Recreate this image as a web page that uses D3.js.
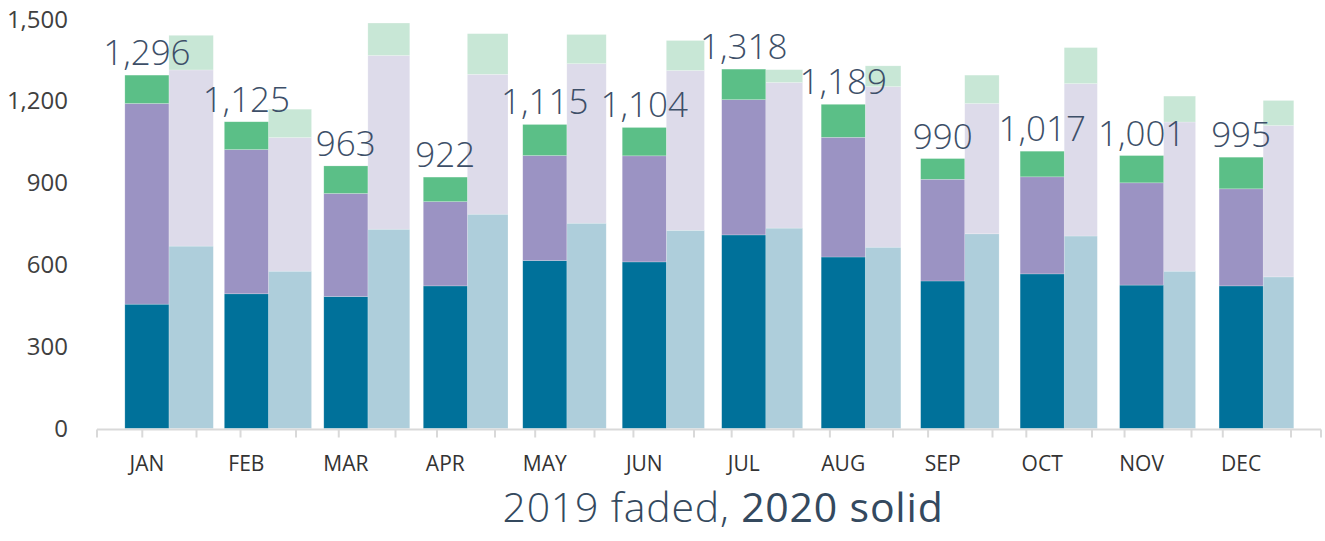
<!DOCTYPE html>
<html>
<head>
  <meta charset="utf-8">
  <script src="https://d3js.org/d3.v7.min.js"></script>
  <style>
    body { margin: 0; background: #fff; }
    svg { display: block; font-family: "Open Sans", "Noto Sans", sans-serif; }
  </style>
</head>
<body>
<div id="chart"></div>
<script>
  // Months and the three stacked parts per year
  var months = ["JAN", "FEB", "MAR", "APR", "MAY", "JUN", "JUL", "AUG", "SEP", "OCT", "NOV", "DEC"];
  var base2020 = [456, 494, 484, 523, 616, 611, 710, 629, 541, 567, 526, 523];
  var mid2020  = [736, 529, 378, 309, 385, 389, 496, 439, 373, 356, 375, 356];
  var top2020  = [104, 102, 101,  90, 114, 104, 112, 121,  76,  94, 100, 116];
  var base2019 = [669, 577, 731, 786, 753, 727, 735, 665, 714, 706, 577, 556];
  var mid2019  = [646, 490, 637, 513, 585, 586, 534, 589, 478, 559, 547, 555];
  var top2019  = [127, 104, 119, 149, 107, 110,  47,  76, 104, 132,  95,  92];
  var yTicks = [0, 300, 600, 900, 1200, 1500];

  var colors2020 = ["#00719a", "#9b93c3", "#5bbf87"];
  var colors2019 = ["#aecedb", "#dddbea", "#c8e7d6"];

  var W = 1325, H = 541;

  var svg = d3.select("#chart").append("svg")
      .attr("width", W)
      .attr("height", H);

  // y scale: 0 sits on the axis line, 1,500 near the top edge
  var y = d3.scaleLinear().domain([0, 1500]).range([428.5, 19.5]);

  // 2020 bars sit in one band scale, 2019 bars run off a second, slightly narrower one
  var x20 = d3.scaleBand().domain(months).range([97, 1291])
      .paddingInner(0.557).paddingOuter(0.28);
  var t20 = d3.scaleBand().domain(months).range([97, 1291]);
  var t19 = d3.scaleBand().domain(months).range([142.3, 1321]);

  function rows(a, b, c) {
    return months.map(function(m, i) { return {month: m, a: a[i], b: b[i], c: c[i]}; });
  }
  var stack = d3.stack().keys(["a", "b", "c"]);
  var s20 = stack(rows(base2020, mid2020, top2020));
  var s19 = stack(rows(base2019, mid2019, top2019));

  // 2019 faded bars: from the right edge of the 2020 bar to a fixed spot in the 2019 band
  svg.append("g").selectAll("g")
    .data(s19).join("g")
      .attr("fill", function(d, i) { return colors2019[i]; })
    .selectAll("rect")
    .data(function(d) { return d; }).join("rect")
      .attr("x", function(d) { return x20(d.data.month) + x20.bandwidth(); })
      .attr("width", function(d) { return t19(d.data.month) + t19.step() * 0.723 - x20(d.data.month) - x20.bandwidth(); })
      .attr("y", function(d) { return y(d[1]); })
      .attr("height", function(d) { return y(d[0]) - y(d[1]); })
      .attr("stroke", "#fff").attr("stroke-opacity", 0.35).attr("stroke-width", 0.6);

  // 2020 solid bars
  svg.append("g").selectAll("g")
    .data(s20).join("g")
      .attr("fill", function(d, i) { return colors2020[i]; })
    .selectAll("rect")
    .data(function(d) { return d; }).join("rect")
      .attr("x", function(d) { return x20(d.data.month); })
      .attr("width", x20.bandwidth())
      .attr("y", function(d) { return y(d[1]); })
      .attr("height", function(d) { return y(d[0]) - y(d[1]); })
      .attr("stroke", "#fff").attr("stroke-opacity", 0.35).attr("stroke-width", 0.6);

  // totals above the 2020 bars
  var fmt = d3.format(",");
  svg.append("g").selectAll("text")
    .data(s20[2]).join("text")
      .attr("x", function(d) { return x20(d.data.month) + x20.bandwidth() / 2; })
      .attr("y", function(d) { return y(d[1]) - 10; })
      .attr("text-anchor", "middle")
      .attr("fill", "#3d4f68")
      .attr("font-size", 35)
      .attr("font-weight", 300)
      .text(function(d) { return fmt(d[1]); });

  // x axis line and the two rows of ticks
  var axisY = 429.5;
  svg.append("line")
      .attr("x1", 97).attr("x2", 1321).attr("y1", axisY).attr("y2", axisY)
      .attr("stroke", "#d9d9d9").attr("stroke-width", 2);
  var tickXs = months.map(function(m) { return t20(m); }).concat([t20.range()[1]])
      .concat(months.map(function(m) { return t19(m); })).concat([t19.range()[1]]);
  svg.append("g").selectAll("line")
    .data(tickXs).join("line")
      .attr("x1", function(d) { return d; }).attr("x2", function(d) { return d; })
      .attr("y1", axisY).attr("y2", axisY + 8)
      .attr("stroke", "#d9d9d9").attr("stroke-width", 2);

  // month labels
  var xAxis = svg.append("g")
      .attr("transform", "translate(0," + axisY + ")")
      .call(d3.axisBottom(x20).tickSize(0).tickPadding(27));
  xAxis.select(".domain").remove();
  xAxis.selectAll("text")
      .attr("font-size", 21)
      .attr("font-family", "\"Open Sans\", sans-serif")
      .attr("fill", "#333");

  // y axis labels, no line
  var yAxis = svg.append("g")
      .attr("transform", "translate(71,0)")
      .call(d3.axisLeft(y).tickValues(yTicks).tickFormat(fmt).tickSize(0).tickPadding(3));
  yAxis.select(".domain").remove();
  yAxis.selectAll("text")
      .attr("font-size", 24)
      .attr("font-family", "\"Open Sans\", sans-serif")
      .attr("fill", "#404040");

  // caption under the axis
  var cap = svg.append("text")
      .attr("x", 723).attr("y", 522)
      .attr("text-anchor", "middle")
      .attr("font-size", 41)
      .attr("letter-spacing", 0.8)
      .attr("fill", "#34495e");
  cap.append("tspan").attr("font-weight", 300).text("2019 faded, ");
  cap.append("tspan").attr("font-weight", 400).text("2020 solid");
</script>
</body>
</html>
